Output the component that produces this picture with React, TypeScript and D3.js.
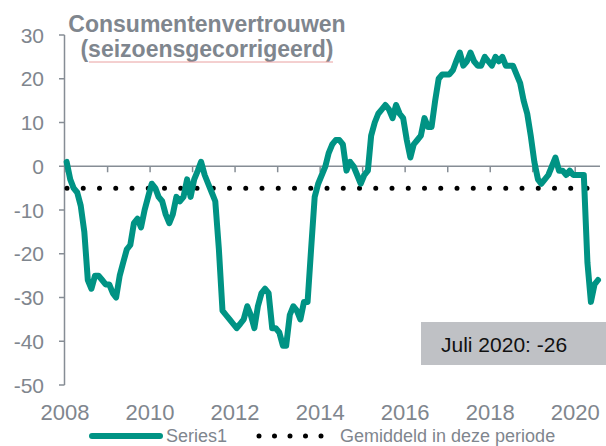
import React from "react";
import * as d3 from "d3";

const startYear = 2008;
const values2008 = [1, -3, -5, -6, -9, -15, -26, -28, -25, -25, -26, -27];
const values2009 = [-27, -29, -30, -25, -22, -19, -18, -13, -12, -14, -10, -7];
const values2010 = [-4, -5, -7, -8, -11, -13, -11, -7, -8, -7, -3, -7];
const values2011 = [-3, -1, 1, -2, -4, -6, -8, -19, -33, -34, -35, -36];
const values2012 = [-37, -36, -35, -32, -34, -37, -32, -29, -28, -29, -37, -37];
const values2013 = [-38, -41, -41, -34, -32, -33, -35, -31, -31, -19, -7, -4];
const values2014 = [-2, 0, 3, 5, 6, 6, 5, -1, 1, 0, -2, -4];
const values2015 = [-2, -1, 7, 10, 12, 13, 14, 13, 11, 14, 12, 11];
const values2016 = [6, 2, 5, 6, 7, 11, 9, 9, 15, 20, 21, 21];
const values2017 = [21, 22, 24, 26, 23, 24, 26, 24, 23, 23, 25, 24];
const values2018 = [23, 25, 24, 25, 23, 23, 23, 21, 19, 15, 12, 7];
const values2019 = [1, -3, -4, -3, -2, 0, 2, -1, -1, -2, -1, -2];
const values2020 = [-2, -2, -2, -22, -31, -27, -26];
const seriesValues = [
  ...values2008, ...values2009, ...values2010, ...values2011, ...values2012,
  ...values2013, ...values2014, ...values2015, ...values2016, ...values2017,
  ...values2018, ...values2019, ...values2020,
];
const averageValue = -5;
const yTicks = [30, 20, 10, 0, -10, -20, -30, -40, -50];
const xTickYears = [2008, 2009, 2010, 2011, 2012, 2013, 2014, 2015, 2016, 2017, 2018, 2019, 2020];
const xLabelYears = [2008, 2010, 2012, 2014, 2016, 2018, 2020];
const titleLines = ["Consumentenvertrouwen", "(seizoensgecorrigeerd)"];
const annotationText = "Juli 2020: -26";
const seriesName = "Series1";
const averageName = "Gemiddeld in deze periode";

const FONT = "'Liberation Sans', Arial, Helvetica, sans-serif";
const TEAL = "#009384";
const GRAY_TXT = "#7f868e";
const GRAY_AX = "#868d95";

export default function App() {
  const x = d3.scaleTime().domain([new Date(2008, 0, 1), new Date(2020, 7, 1)]).range([65, 600]);
  const y = d3.scaleLinear().domain([-50, 30]).range([385, 35]);
  const data = seriesValues.map((v, i) => ({ date: new Date(startYear + Math.floor(i / 12), i % 12, 15), v }));
  const line = d3.line<{ date: Date; v: number }>().x((d) => x(d.date)).y((d) => y(d.v));
  const avgStart = 67;
  const dotStep = 16.25;
  const avgEnd = avgStart + dotStep * 32;

  return (
    <svg width={606} height={446} style={{ position: "absolute", left: 0, top: 0, background: "#fff" }} fontFamily={FONT}>
      {/* y axis */}
      <line x1={64.5} x2={64.5} y1={y(30)} y2={y(-50)} stroke={GRAY_AX} strokeWidth={1.5} />
      {yTicks.map((t) => (
        <g key={t}>
          <line x1={59} x2={64.5} y1={y(t)} y2={y(t)} stroke={GRAY_AX} strokeWidth={1.5} />
          <text x={44} y={y(t)} dy="0.36em" textAnchor="end" fontSize={21} fill={GRAY_TXT}>{t}</text>
        </g>
      ))}
      {/* x axis at 0 */}
      <line x1={64.5} x2={600} y1={y(0)} y2={y(0)} stroke={GRAY_AX} strokeWidth={1.5} />
      {xTickYears.map((yr) => (
        <line key={yr} x1={x(new Date(yr, 0, 1))} x2={x(new Date(yr, 0, 1))} y1={y(0)} y2={y(0) + 6} stroke={GRAY_AX} strokeWidth={1.5} />
      ))}
      {xLabelYears.map((yr) => (
        <text key={yr} x={x(new Date(yr, 0, 1))} y={420} textAnchor="middle" fontSize={22} fill={GRAY_TXT}>{yr}</text>
      ))}
      {/* average dotted line */}
      <line x1={avgStart} x2={avgEnd + 0.5} y1={y(averageValue)} y2={y(averageValue)} stroke="#000" strokeWidth={5} strokeLinecap="round" strokeDasharray={`0 ${dotStep}`} />
      {/* series */}
      <path d={line(data) || ""} fill="none" stroke={TEAL} strokeWidth={6} strokeLinejoin="round" strokeLinecap="round" />
      {/* title */}
      <text x={207} y={32} textAnchor="middle" fontSize={23} fontWeight="bold" fill={GRAY_TXT}>{titleLines[0]}</text>
      <text x={207} y={57} textAnchor="middle" fontSize={23} fontWeight="bold" fill={GRAY_TXT}>{titleLines[1]}</text>
      <line x1={89} x2={333} y1={62} y2={62} stroke="#e9a0a0" strokeWidth={1} />
      {/* annotation */}
      <rect x={421} y={322} width={185} height={43} fill="#bfc1c5" />
      <text x={441} y={352} fontSize={21} fill="#111">{annotationText}</text>
      {/* legend */}
      <line x1={92} x2={160} y1={436} y2={436} stroke={TEAL} strokeWidth={6} strokeLinecap="round" />
      <text x={166} y={442} fontSize={18} fill={GRAY_TXT}>{seriesName}</text>
      <line x1={259} x2={321.5} y1={436} y2={436} stroke="#000" strokeWidth={5} strokeLinecap="round" strokeDasharray="0 15.5" />
      <text x={340} y={442} fontSize={18} fill={GRAY_TXT}>{averageName}</text>
    </svg>
  );
}
